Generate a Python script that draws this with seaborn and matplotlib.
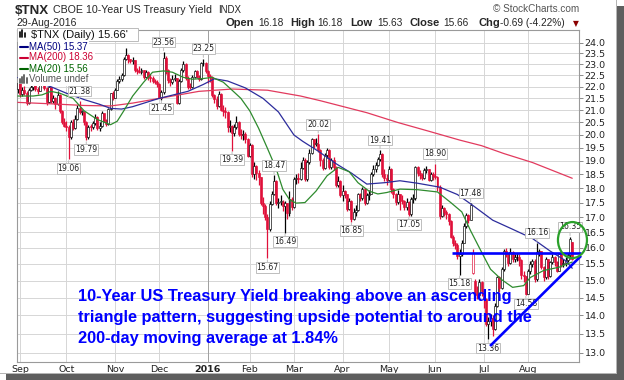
#!/usr/bin/env python3
"""
$TNX daily candlestick chart (Sep 2015 - Aug 2016) with moving averages,
StockCharts-style value labels and the ascending-triangle annotation.
"""

import numpy as np
import matplotlib
matplotlib.use("Agg")
import matplotlib.pyplot as plt
import seaborn as sns
from matplotlib.lines import Line2D
from matplotlib.patches import Ellipse, Rectangle
from matplotlib.ticker import FixedLocator, NullLocator
from matplotlib.transforms import IdentityTransform

# ── Data (index 0 = 31-Aug-2015, one entry per trading day) ───────────────────

closes = [
    22.18, 21.68, 21.85, 21.73, 21.30, 21.86, 21.98, 22.18, 21.91, 21.82, 22.81, 22.94, 21.96, 21.33, 21.97, 21.40, 21.50, 21.26, 21.65, 20.96, 20.50, 20.37,
    20.31, 19.91, 20.50, 20.28, 20.63, 21.09, 20.93, 20.93, 20.50, 19.91, 20.33, 20.31, 20.46, 20.72, 20.28, 20.36, 20.89, 20.58, 20.44, 21.06, 21.71, 21.52,
    21.88, 22.25, 22.33, 22.50, 23.24, 23.43, 23.22, 23.15, 23.20, 22.75, 22.69, 22.66, 22.72, 22.43, 22.65, 22.44, 22.39, 22.27, 22.22, 22.11,
    21.53, 21.76, 23.29, 22.75, 22.28, 22.20, 22.35, 22.37, 21.30, 22.27, 22.75, 23.00, 22.40, 22.00, 21.99, 22.44, 22.70, 22.45, 22.35, 23.04, 23.05, 22.69,
    22.45, 22.42, 21.66, 21.48, 21.19, 21.69, 21.01, 20.98, 20.92, 20.31, 20.36, 20.08, 20.30, 20.53, 20.03, 20.00, 20.04, 19.84, 19.20,
    19.60, 18.51, 18.81, 18.56, 18.39, 17.49, 17.38, 17.02, 16.60, 17.45, 17.81, 18.26, 17.49, 17.52, 17.53, 17.37, 17.48, 17.13, 17.63, 17.35,
    18.32, 18.38, 18.33, 18.75, 19.05, 18.32, 18.97, 19.30, 19.83, 19.64, 19.66, 19.43, 19.03, 18.75, 19.21, 19.43, 18.78, 19.05, 18.76, 18.13, 18.26, 17.76,
    17.90, 17.79, 17.28, 17.57, 16.95, 17.18, 17.25, 17.80, 17.66, 17.96, 17.48, 17.77, 17.81, 18.50, 18.70, 18.86, 19.07, 19.26, 18.53, 18.36, 18.30,
    18.70, 17.96, 17.81, 17.53, 17.79, 17.60, 17.56, 17.35, 17.53, 17.10, 17.61, 17.66, 18.77, 18.56, 18.48, 18.38, 18.66, 18.69, 18.29, 18.51, 18.45,
    18.40, 18.05, 17.03, 17.30, 17.17, 17.12, 16.86, 16.36, 16.15, 16.09, 15.75, 15.80, 16.16, 16.72, 17.06, 16.92, 17.43, 15.85, 14.62, 14.58, 14.97, 14.70,
    14.46, 13.77, 13.84, 13.92, 13.63, 14.27, 15.11, 14.78, 15.34, 15.90, 15.85, 15.53, 15.88, 15.66, 15.70, 15.72, 15.62, 15.18, 15.13, 14.62,
    15.30, 15.50, 15.60, 15.04, 15.86, 15.90, 15.40, 15.10, 15.65, 15.13, 15.57, 15.70, 15.55, 15.30, 15.80, 15.49, 15.52, 15.62, 15.78, 16.28, 15.66,
]

highs = [
    22.25, 22.30, 22.00, 22.05, 21.80, 21.95, 22.25, 22.30, 22.20, 22.00, 22.90, 23.05, 23.00, 22.00, 22.05, 22.00, 21.65, 21.55, 21.80, 21.70, 21.00, 20.70,
    20.55, 20.40, 20.60, 20.65, 20.80, 21.20, 21.38, 21.00, 20.95, 20.55, 20.40, 20.45, 20.55, 20.85, 20.75, 20.50, 20.95, 20.90, 20.65, 21.10, 21.75, 21.80,
    21.95, 22.35, 22.45, 22.60, 23.35, 23.75, 23.45, 23.25, 23.35, 23.20, 22.85, 22.90, 22.85, 22.75, 22.75, 22.70, 22.55, 22.45, 22.35, 22.30,
    22.15, 21.85, 23.56, 23.40, 22.80, 22.40, 22.50, 22.55, 22.40, 22.35, 22.85, 23.15, 23.05, 22.45, 22.15, 22.50, 22.75, 22.75, 22.50, 23.10, 23.25, 23.10,
    22.75, 22.55, 22.45, 21.70, 21.60, 21.80, 21.75, 21.20, 21.15, 20.95, 20.60, 20.40, 20.45, 20.75, 20.55, 20.25, 20.20, 20.10, 19.90,
    19.70, 19.65, 18.95, 18.85, 18.65, 18.40, 17.70, 17.45, 17.10, 17.55, 17.90, 18.47, 18.30, 17.65, 17.75, 17.60, 17.55, 17.50, 17.90, 17.70,
    18.40, 18.50, 18.55, 18.95, 19.15, 19.10, 19.05, 19.45, 19.90, 19.85, 19.90, 20.02, 19.45, 19.10, 19.30, 19.50, 19.45, 19.10, 19.15, 18.80, 18.45, 18.30,
    18.10, 17.95, 17.80, 17.65, 17.60, 17.30, 17.40, 17.85, 17.85, 18.05, 18.00, 17.85, 17.95, 18.60, 18.85, 18.95, 19.15, 19.41, 19.30, 18.70, 18.50,
    18.80, 18.75, 18.00, 17.85, 17.95, 17.80, 17.75, 17.60, 17.65, 17.55, 17.70, 17.80, 18.80, 18.80, 18.65, 18.55, 18.75, 18.80, 18.70, 18.60, 18.60,
    18.90, 18.45, 18.10, 17.40, 17.35, 17.25, 17.15, 16.90, 16.40, 16.25, 16.15, 15.95, 16.25, 16.80, 17.15, 17.10, 17.48, 15.95, 15.05, 14.85, 15.05, 15.00,
    14.75, 14.50, 13.95, 14.05, 14.00, 14.35, 15.15, 15.15, 15.40, 15.95, 16.00, 15.85, 16.00, 15.90, 15.80, 15.85, 15.80, 15.65, 15.30, 15.15,
    15.35, 15.60, 15.65, 15.65, 16.16, 15.95, 15.90, 15.45, 15.70, 15.65, 15.60, 15.80, 15.75, 15.60, 15.85, 15.80, 15.65, 15.70, 15.85, 16.35, 16.18,
]

lows = [
    21.75, 21.55, 21.60, 21.65, 21.20, 21.25, 21.80, 21.85, 21.80, 21.70, 21.80, 22.70, 21.85, 21.20, 21.30, 21.30, 21.30, 21.05, 21.20, 20.90, 20.45, 20.30,
    20.15, 19.06, 19.85, 20.20, 20.25, 20.60, 20.85, 20.80, 20.40, 19.79, 19.85, 20.15, 20.25, 20.40, 20.20, 20.15, 20.30, 20.50, 20.35, 20.40, 21.00, 21.45,
    21.50, 21.85, 22.15, 22.25, 22.45, 23.20, 23.05, 23.05, 23.00, 22.65, 22.55, 22.60, 22.55, 22.35, 22.40, 22.30, 22.20, 22.15, 22.10, 22.00,
    21.50, 21.45, 21.70, 22.55, 22.15, 22.05, 22.10, 22.25, 21.25, 21.25, 22.20, 22.65, 22.30, 21.90, 21.90, 21.95, 22.40, 22.40, 22.25, 22.30, 22.90, 22.60,
    22.15, 22.20, 21.55, 21.30, 21.05, 21.15, 20.95, 20.75, 20.70, 20.10, 20.10, 19.39, 19.95, 20.25, 19.95, 19.85, 19.80, 19.70, 19.15,
    19.15, 18.40, 18.35, 18.30, 18.10, 17.40, 17.10, 16.90, 15.67, 16.55, 17.40, 17.75, 17.40, 17.30, 17.40, 17.20, 16.49, 16.95, 17.05, 17.25,
    17.30, 18.15, 18.20, 18.30, 18.70, 18.25, 18.25, 18.90, 19.25, 19.50, 19.55, 19.35, 18.80, 18.65, 18.70, 19.10, 18.70, 18.70, 18.65, 18.05, 18.05, 17.70,
    17.55, 17.65, 17.20, 17.25, 16.85, 16.90, 17.05, 17.20, 17.55, 17.60, 17.40, 17.45, 17.60, 17.80, 18.45, 18.60, 18.80, 19.00, 18.40, 18.25, 18.10,
    18.25, 17.85, 17.65, 17.40, 17.45, 17.25, 17.45, 17.25, 17.25, 17.05, 17.05, 17.50, 17.60, 18.45, 18.35, 18.30, 18.35, 18.55, 18.25, 18.25, 18.30,
    18.35, 17.90, 16.95, 17.00, 17.05, 16.95, 16.75, 16.30, 16.05, 15.95, 15.65, 15.18, 15.75, 16.15, 16.65, 16.80, 16.90, 15.20, 14.50, 14.45, 14.55, 14.55,
    14.20, 13.70, 13.36, 13.70, 13.45, 13.60, 14.25, 14.65, 14.75, 15.30, 15.70, 15.45, 15.50, 15.55, 15.55, 15.60, 15.45, 15.05, 14.95, 14.58,
    14.60, 15.20, 15.40, 14.95, 15.00, 15.75, 15.35, 15.00, 15.05, 15.05, 15.10, 15.50, 15.45, 15.25, 15.30, 15.40, 15.40, 15.45, 15.55, 15.65, 15.63,
]

# opens equal the previous close except on these gap days
open_gaps = {0: 21.90, 206: 15.24, 207: 15.00, 251: 16.18}

# moving averages (bar index, value)
ma20_idx = [0, 7, 11, 15, 19, 25, 30, 36, 42, 45, 48, 52, 57, 61, 66, 70, 75, 79, 84, 88, 93, 97, 101, 105,
            109, 113, 117, 120, 123, 126, 130, 135, 140, 145, 150, 154, 159, 163, 167, 173, 181, 190, 196,
            201, 205, 210, 214, 219, 224, 229, 232, 238, 245, 251]
ma20_val = [21.60, 21.60, 21.65, 21.80, 21.72, 21.50, 20.98, 20.62, 20.41, 20.55, 20.98, 21.60, 22.20, 22.64,
            22.70, 22.64, 22.41, 22.33, 22.36, 22.41, 22.20, 21.85, 21.50, 20.98, 20.27, 19.48, 18.70, 17.96,
            17.60, 17.48, 17.50, 17.90, 18.45, 18.76, 18.60, 18.20, 17.90, 17.80, 17.85, 17.97, 17.95, 17.87,
            17.50, 17.18, 16.55, 15.86, 15.34, 15.03, 14.80, 14.85, 15.09, 15.30, 15.40, 15.56]

ma50_idx = [0, 8, 15, 22, 30, 37, 42, 47, 52, 64, 77, 84, 89, 95, 103, 111, 118, 125, 129, 136, 144, 151,
            158, 166, 173, 181, 191, 199, 206, 215, 224, 233, 241, 248, 251]
ma50_val = [22.40, 22.20, 22.00, 21.72, 21.45, 21.25, 21.08, 21.05, 21.15, 21.50, 21.80, 22.10, 22.35, 22.25,
            21.95, 21.50, 20.93, 20.00, 19.75, 19.37, 18.90, 18.55, 18.15, 18.20, 18.27, 18.18, 18.04, 17.78,
            17.40, 16.90, 16.60, 16.30, 15.90, 15.60, 15.37]

ma200_idx = [0, 15, 30, 42, 52, 64, 82, 97, 113, 128, 137, 158, 172, 186, 200, 210, 220, 233, 251]
ma200_val = [21.33, 21.27, 21.20, 21.18, 21.30, 21.50, 21.80, 21.90, 21.85, 21.60, 21.40, 20.90, 20.50,
             20.15, 19.80, 19.58, 19.28, 18.94, 18.36]

month_idx    = [1, 22, 44, 64, 86, 105, 125, 147, 168, 189, 211, 231]
month_labels = ["Sep", "Oct", "Nov", "Dec", "2016", "Feb", "Mar", "Apr", "May", "Jun", "Jul", "Aug"]
ytick_vals   = [13.0 + 0.5 * k for k in range(23)]

# bars that carry a value label: (bar index, "hi" or "lo")
label_points = [(23, "lo"), (28, "hi"), (31, "lo"), (65, "lo"), (66, "hi"), (84, "hi"), (97, "lo"),
                (113, "lo"), (116, "hi"), (121, "lo"), (136, "hi"), (151, "lo"), (164, "hi"), (177, "lo"),
                (189, "hi"), (200, "lo"), (205, "hi"), (213, "lo"), (230, "lo"), (235, "hi"), (250, "hi")]

# triangle annotation (bar index, yield x10)
resistance = ([196.4, 255.0], [15.83, 15.83])
support    = ([213.8, 255.0], [13.18, 15.75])
circle_at  = (251.1, 16.25)

note_lines = ["10-Year US Treasury Yield breaking above an ascending",
              "triangle pattern, suggesting upside potential to around the",
              "200-day moving average at 1.84%"]

# ── Style ─────────────────────────────────────────────────────────────────────

sns.set_style("white")
plt.rcParams["font.family"] = ["DejaVu Sans"]

W, H = 624, 380
RED, BLUE = "#e0103a", "#0000ff"
ARIAL = "Liberation Sans"


def fpos(x, y):
    """pixel position (from top-left) -> figure fraction"""
    return x / W, 1 - y / H


# ── Candles ───────────────────────────────────────────────────────────────────

c = np.array(closes)
n = len(c)
idx = np.arange(n)
o = np.array([open_gaps.get(i, closes[i - 1]) for i in range(n)])
h = np.maximum(np.array(highs), np.maximum(o, c))
l = np.minimum(np.array(lows), np.minimum(o, c))
prev = np.r_[o[0], c[:-1]]
col = np.where(c < prev, RED, "black")
face = np.where(c >= o, "white", col)

fig = plt.figure(figsize=(W / 100, H / 100), dpi=100)
fig.patch.set_facecolor("white")
ax = fig.add_axes([17 / W, 18 / H, 562 / W, 332 / H])
ax.set_yscale("log")

ax.vlines(idx, l, h, colors=col, linewidth=0.9, zorder=2.5)
ax.bar(idx, np.maximum(np.abs(c - o), 0.03), bottom=np.minimum(o, c), width=0.9,
       color=face, edgecolor=col, linewidth=0.45, zorder=3)

sns.lineplot(x=ma200_idx, y=ma200_val, ax=ax, color="#e23a5e", linewidth=0.9, zorder=4)
sns.lineplot(x=ma50_idx, y=ma50_val, ax=ax, color="#2c2c9c", linewidth=0.9, zorder=4)
sns.lineplot(x=ma20_idx, y=ma20_val, ax=ax, color="#2e8b2e", linewidth=0.9, zorder=4)

ax.set_xlim(-0.36, 254.06)
ax.set_ylim(12.77, 24.61)
ax.set_xlabel("")
ax.set_ylabel("")

# ── Axes, grid ────────────────────────────────────────────────────────────────

ax.yaxis.set_major_locator(FixedLocator(ytick_vals))
ax.yaxis.set_minor_locator(NullLocator())
ax.set_yticklabels([f"{v:.1f}" for v in ytick_vals])
ax.xaxis.set_major_locator(FixedLocator(month_idx))
ax.set_xticklabels(month_labels)
ax.yaxis.tick_right()
ax.tick_params(axis="y", which="major", direction="out", length=3, width=0.6, color="#777777",
               pad=1, labelsize=6.8, labelcolor="#222222", right=True, left=False)
ax.tick_params(axis="x", length=0, pad=2, labelsize=6.8, labelcolor="#222222")
for lbl in ax.get_xticklabels():
    if lbl.get_text() == "2016":
        lbl.set_fontweight("bold")

ax.grid(True, color="#d6d6d6", linewidth=0.7)
ax.set_axisbelow(True)
ax.axvline(86, color="#a0a0a0", linewidth=0.7, zorder=1)
for sp in ax.spines.values():
    sp.set_color("#9a9a9a")
    sp.set_linewidth(0.8)

# ── Value labels ──────────────────────────────────────────────────────────────

for i, kind in label_points:
    val = h[i] if kind == "hi" else l[i]
    off = 10 if kind == "hi" else -9
    ax.annotate(f"{val:.2f}", xy=(i, val), xytext=(0, off), textcoords="offset pixels",
                ha="center", va="center", fontsize=5.6, color="#222222",
                bbox=dict(boxstyle="square,pad=0.1", fc="white", ec="#bdbdbd", lw=0.7),
                arrowprops=dict(arrowstyle="-", color="#bdbdbd", lw=0.7, shrinkA=0, shrinkB=1),
                zorder=6, annotation_clip=False)

# ── Triangle annotation ───────────────────────────────────────────────────────

ax.plot(*resistance, color=BLUE, linewidth=1.9, zorder=7, clip_on=False, solid_capstyle="butt")
ax.plot(*support, color=BLUE, linewidth=1.9, zorder=7, clip_on=False, solid_capstyle="butt")
cx, cy = ax.transData.transform(circle_at)
ax.add_patch(Ellipse((cx, cy), 29, 36, transform=IdentityTransform(), fill=False,
                     edgecolor="#2aa02a", linewidth=1.6, zorder=8, clip_on=False))

for k, line in enumerate(note_lines):
    fig.text(*fpos(78, 300.5 + 21.5 * k), line, family=ARIAL, fontsize=11.8, fontweight="bold",
             color=BLUE, va="baseline", ha="left", zorder=9)

# ── Legend block (inside the plot, top-left) ──────────────────────────────────

fig.add_artist(Rectangle(fpos(17, 41), 121 / W, 13 / H, transform=fig.transFigure,
                         fc="white", ec="#bbbbbb", lw=0.7, zorder=10))
fig.add_artist(Rectangle(fpos(17.5, 84), 12 / W, 43 / H, transform=fig.transFigure,
                         fc="white", ec="none", zorder=10))
for k, hgt in enumerate([5, 7, 4]):
    fig.add_artist(Line2D([(20 + 2.5 * k) / W] * 2, [1 - 37 / H, 1 - (37 - hgt) / H],
                          transform=fig.transFigure, color="black", lw=1.2, zorder=11))
fig.text(*fpos(31, 37.5), "$TNX (Daily) 15.66'", family=ARIAL, fontsize=8, color="#111111",
         va="baseline", zorder=11)

legend_rows = [("MA(50) 15.37", "#000080", 49.5), ("MA(200) 18.36", "#cc0033", 60.5),
               ("MA(20) 15.56", "#006400", 71.5)]
for txt, clr, yb in legend_rows:
    fig.text(*fpos(29, yb), txt, family=ARIAL, fontsize=7, color=clr, va="baseline", zorder=11,
             bbox=dict(boxstyle="square,pad=0.15", fc="white", ec="none"))
    fig.add_artist(Line2D([20 / W, 28 / W], [1 - (yb - 3) / H] * 2, transform=fig.transFigure,
                          color=clr, lw=1.5, zorder=12))
fig.text(*fpos(29, 82.5), "Volume undef", family=ARIAL, fontsize=7, color="#555555",
         va="baseline", zorder=11, bbox=dict(boxstyle="square,pad=0.15", fc="white", ec="none"))
for k, hgt in enumerate([4, 6, 8, 5]):
    fig.add_artist(Line2D([(20 + 2.2 * k) / W] * 2, [1 - 82.5 / H, 1 - (82.5 - hgt) / H],
                          transform=fig.transFigure, color="#666666", lw=1.4, zorder=12))

# ── Header ────────────────────────────────────────────────────────────────────

fig.text(*fpos(15, 13.5), "$TNX", family=ARIAL, fontsize=9.6, fontweight="bold", va="baseline")
fig.text(*fpos(53, 13), "CBOE 10-Year US Treasury Yield", family=ARIAL, fontsize=7.7, va="baseline")
fig.text(*fpos(218, 13), "INDX", family=ARIAL, fontsize=7, va="baseline")
fig.text(*fpos(16, 26), "29-Aug-2016", family=ARIAL, fontsize=7.5, va="baseline")
fig.text(*fpos(579, 12), "\u00a9 StockCharts.com", family=ARIAL, fontsize=7.2, color="#555555",
         ha="right", va="baseline")

quote = [(225, "Open", True), (258, "16.18", False), (290, "High", True), (317, "16.18", False),
         (350, "Low", True), (377, "15.63", False), (410, "Close", True), (443, "15.66", False),
         (478, "Chg", True), (500, "-0.69 (-4.22%)", False)]
for x, txt, bold in quote:
    fig.text(*fpos(x, 26), txt, family=ARIAL, fontsize=8 if bold else 7.3,
             fontweight="bold" if bold else "normal", va="baseline")
fig.text(*fpos(573, 26), "\u25bc", fontsize=5.5, color="#8b0000", va="baseline")

# ── Drop shadow of the pasted picture ─────────────────────────────────────────

fig.add_artist(Rectangle((617 / W, 0), 7 / W, 374 / H, transform=fig.transFigure,
                         fc="#5e5e5e", ec="none", zorder=20))
fig.add_artist(Rectangle((6 / W, 0), 618 / W, 6 / H, transform=fig.transFigure,
                         fc="#5e5e5e", ec="none", zorder=20))
fig.add_artist(Rectangle((615.5 / W, 6 / H), 1.5 / W, 374 / H, transform=fig.transFigure,
                         fc="#b5b5b5", ec="none", zorder=20))
fig.add_artist(Rectangle((0, 6 / H), 617 / W, 1.5 / H, transform=fig.transFigure,
                         fc="#b5b5b5", ec="none", zorder=20))

fig.savefig("out.png", dpi=100)
